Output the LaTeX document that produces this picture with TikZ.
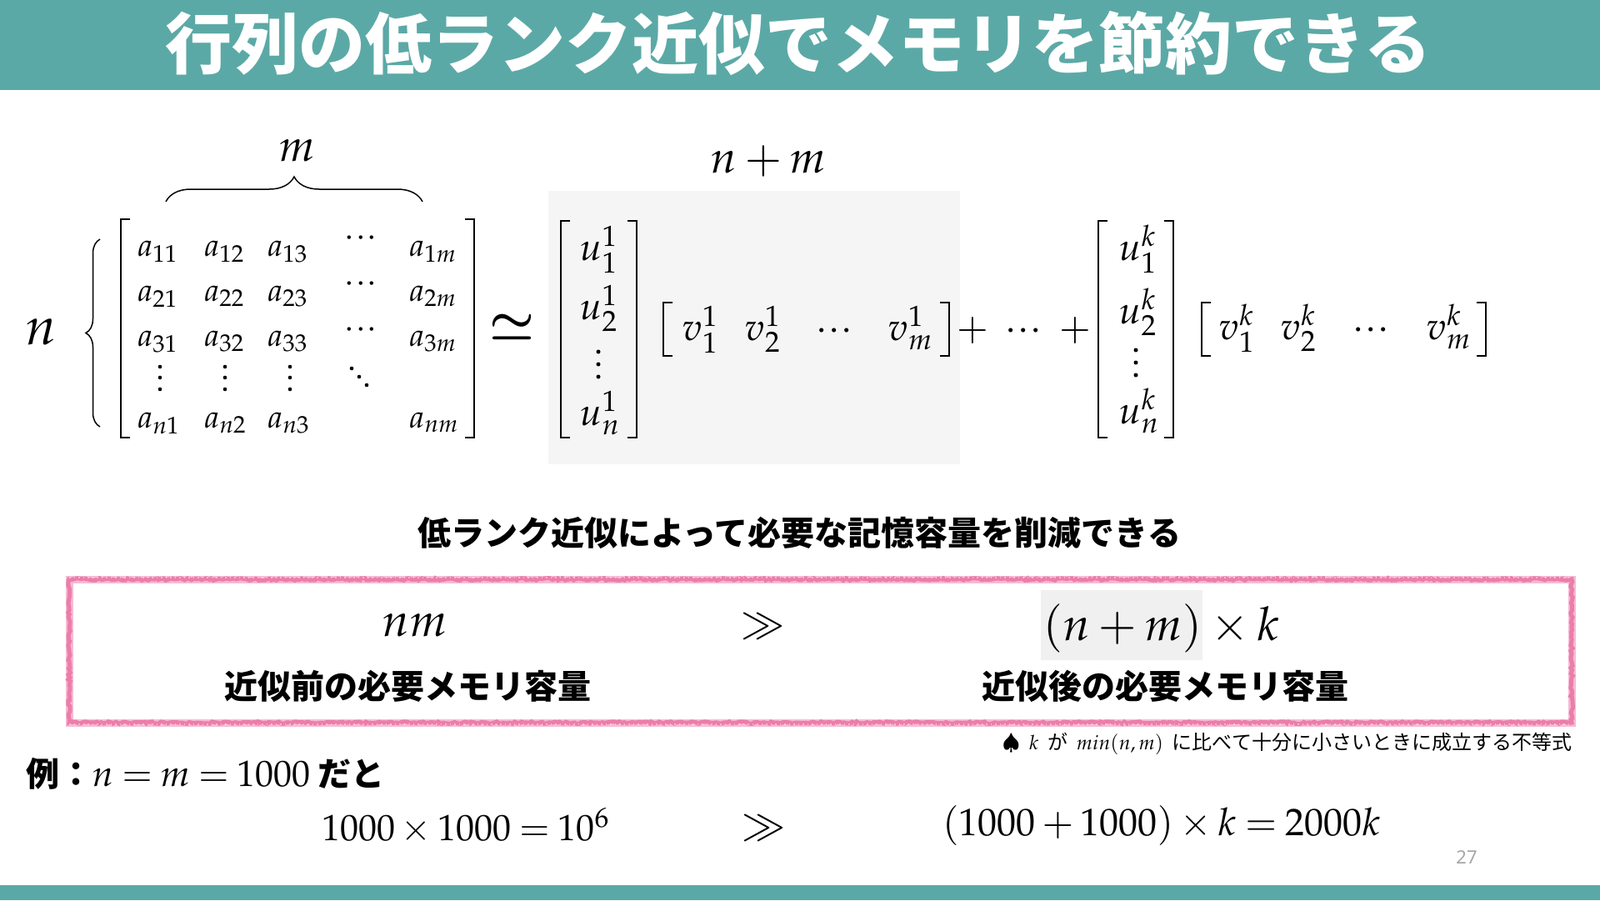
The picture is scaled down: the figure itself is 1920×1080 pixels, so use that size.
\documentclass[tikz,border=0pt]{standalone}
\usepackage[sc]{mathpazo}
\usepackage[no-math]{fontspec}
\newfontfamily\jp{Noto Sans CJK JP}
\newfontfamily\numfont{Noto Sans}
\usetikzlibrary{decorations.pathreplacing,decorations.pathmorphing}
\definecolor{tealbar}{RGB}{91,169,166}
\definecolor{pinkc}{RGB}{233,104,158}
\definecolor{hlgray}{RGB}{245,245,245}
\newcommand\FS[1]{\fontsize{#1}{#1}\selectfont}
\newcommand\cdd{\mathord{\cdotp}\mkern0.3mu\mathord{\cdotp}\mkern0.3mu\mathord{\cdotp}}
\medmuskip=3mu plus 2mu minus 3mu
\thickmuskip=4mu plus 3mu
\begin{document}
\begin{tikzpicture}[x=1pt,y=-1pt,
  every node/.style={inner sep=0pt,outer sep=0pt},
  mA/.style={font=\FS{38},anchor=base west},
  mAc/.style={font=\FS{40},anchor=base},
  mU/.style={font=\FS{46},anchor=base west},
  mUc/.style={font=\FS{46},anchor=base},
  jptext/.style={font=\jp\bfseries\FS{40},anchor=base},
  brk/.style={line width=2.6pt,line join=miter},
  bracestyle/.style={decorate,line width=1.5pt},
  dotc/.style={fill=black}]
\useasboundingbox (0,0) rectangle (1920,1080);
% bars
\fill[tealbar] (0,0) rectangle (1920,108);
\fill[tealbar] (0,1062) rectangle (1920,1080);
\node[font=\jp\bfseries\FS{80},text=white,anchor=base] (title) at (958,82) {行列の低ランク近似でメモリを節約できる};

% ---- matrix A
\node[font=\FS{54},anchor=base west] (mlab) at (335,193) {$m$};
\coordinate (obL) at (199,242);
\coordinate (obR) at (507,242);
\draw[bracestyle,decoration={brace,amplitude=30pt}] (obL) -- (obR);
\node[font=\FS{64},anchor=base west] (nlab) at (31,413) {$n$};
\coordinate (nbB) at (120,512);
\coordinate (nbT) at (120,287);
\draw[bracestyle,decoration={brace,amplitude=17pt}] (nbB) -- (nbT);

\draw[brk] (156,263) -- (145,263) -- (145,525) -- (156,525);
\draw[brk] (558,263) -- (569,263) -- (569,525) -- (558,525);

\node[mA] (a11) at (165,307) {$a_{11}$};
\node[mA] (a12) at (245,307) {$a_{12}$};
\node[mA] (a13) at (321,307) {$a_{13}$};
\node[mAc] (a1d) at (433,295) {$\cdd$};
\node[mA] (a1m) at (491,307) {$a_{1m}$};
\node[mA] (a21) at (165,361) {$a_{21}$};
\node[mA] (a22) at (245,361) {$a_{22}$};
\node[mA] (a23) at (321,361) {$a_{23}$};
\node[mAc] (a2d) at (433,350) {$\cdd$};
\node[mA] (a2m) at (491,361) {$a_{2m}$};
\node[mA] (a31) at (165,415) {$a_{31}$};
\node[mA] (a32) at (245,415) {$a_{32}$};
\node[mA] (a33) at (321,415) {$a_{33}$};
\node[mAc] (a3d) at (433,405) {$\cdd$};
\node[mA] (a3m) at (491,415) {$a_{3m}$};
\foreach \xx in {192,270,348}{
  \foreach \yy in {440,453,467}{\fill[dotc] (\xx,\yy) circle (2.3pt);}}
\fill[dotc] (422,442) circle (2.3pt);
\fill[dotc] (431,452) circle (2.3pt);
\fill[dotc] (440,462) circle (2.3pt);
\node[mA] (an1) at (165,513) {$a_{n1}$};
\node[mA] (an2) at (245,513) {$a_{n2}$};
\node[mA] (an3) at (321,513) {$a_{n3}$};
\node[mA] (anm) at (491,513) {$a_{nm}$};

\node[font=\FS{58}\boldmath,anchor=center] (approx) at (615,392) {$\simeq$};

% ---- first term
\fill[hlgray] (658,229) rectangle (1152,557);
\node[font=\FS{54},anchor=base west] (nplusm) at (853,207) {$n+m$};
\draw[brk] (684,265) -- (673,265) -- (673,525) -- (684,525);
\draw[brk] (753,265) -- (764,265) -- (764,525) -- (753,525);
\node[mU] (u11) at (696,312) {$u_1^1$};
\node[mU] (u21) at (696,383) {$u_2^1$};
\foreach \yy in {422,437,452}{\fill[dotc] (718,\yy) circle (2.5pt);}
\node[mU] (un1) at (696,510) {$u_n^1$};

\draw[brk] (807,363) -- (796,363) -- (796,427) -- (807,427);
\draw[brk] (1128,363) -- (1139,363) -- (1139,427) -- (1128,427);
\node[mU] (v11) at (819,408) {$v_1^1$};
\node[mU] (v21) at (894,408) {$v_2^1$};
\node[mUc] (vd1) at (1001,408) {$\cdd$};
\node[mU] (vm1) at (1066,408) {$v_m^1$};

\node[mUc] (plus1) at (1167,408) {$+$};
\node[mUc] (dots) at (1228,408) {$\cdd$};
\node[mUc] (plus2) at (1290,408) {$+$};

% ---- k-th term
\draw[brk] (1329,265) -- (1318,265) -- (1318,525) -- (1329,525);
\draw[brk] (1397,265) -- (1408,265) -- (1408,525) -- (1397,525);
\node[mU] (u1k) at (1343,312) {$u_1^k$};
\node[mU] (u2k) at (1343,388) {$u_2^k$};
\foreach \yy in {420,435,450}{\fill[dotc] (1363,\yy) circle (2.5pt);}
\node[mU] (unk) at (1343,508) {$u_n^k$};

\draw[brk] (1453,363) -- (1442,363) -- (1442,427) -- (1453,427);
\draw[brk] (1772,363) -- (1783,363) -- (1783,427) -- (1772,427);
\node[mU] (v1k) at (1463,407) {$v_1^k$};
\node[mU] (v2k) at (1537,407) {$v_2^k$};
\node[mUc] (vdk) at (1645,407) {$\cdd$};
\node[mU] (vmk) at (1712,407) {$v_m^k$};

% ---- subtitle
\node[jptext] (sub) at (959,654) {低ランク近似によって必要な記憶容量を削減できる};

% ---- pink box
\draw[pinkc,line width=9pt,opacity=0.45] (83,695) rectangle (1886,867);
\draw[pinkc,line width=5pt,opacity=0.75,decorate,decoration={random steps,segment length=3pt,amplitude=1.3pt}] (83,695) rectangle (1886,867);
\draw[white,line width=1.2pt,opacity=0.45,dash pattern=on 1.5pt off 4pt] (83,693) -- (1886,693);
\draw[white,line width=1.2pt,opacity=0.45,dash pattern=on 1.5pt off 4pt] (83,869) -- (1886,869);

\node[font=\FS{56},anchor=base west] (nm) at (459,763) {$nm$};
\node[font=\FS{50},anchor=base] (gg1) at (916,764) {$\gg$};
\fill[hlgray!98!black] (1249,708) rectangle (1443,792);
\node[font=\FS{56},anchor=base west] (nmk) at (1252,768) {$(n+m)\times k$};
\node[jptext] (before) at (489,838) {近似前の必要メモリ容量};
\node[jptext] (after) at (1398,838) {近似後の必要メモリ容量};

\node[font=\jp\FS{24},anchor=base east] (note) at (1886,899) {{\FS{26}$\spadesuit$}\ \ $k$\ \ が\ \ $min(n,m)$\ \ に比べて十分に小さいときに成立する不等式};

% ---- example
\node[font=\jp\bfseries\FS{40},anchor=base west] (ex) at (31,943) {例：{\FS{44}$n = m = 1000$} だと};
\node[font=\FS{44},anchor=base west] (ex1) at (386,1008) {$1000\times 1000 = 10^6$};
\node[font=\FS{50},anchor=base] (gg2) at (917,1006) {$\gg$};
\node[font=\FS{46},anchor=base west] (ex2) at (1131,1002) {$(1000+1000)\times k = 2000k$};

\node[font=\numfont\FS{22},text=black!35,anchor=center] (pg) at (1760,1029) {27};
\end{tikzpicture}
\end{document}
